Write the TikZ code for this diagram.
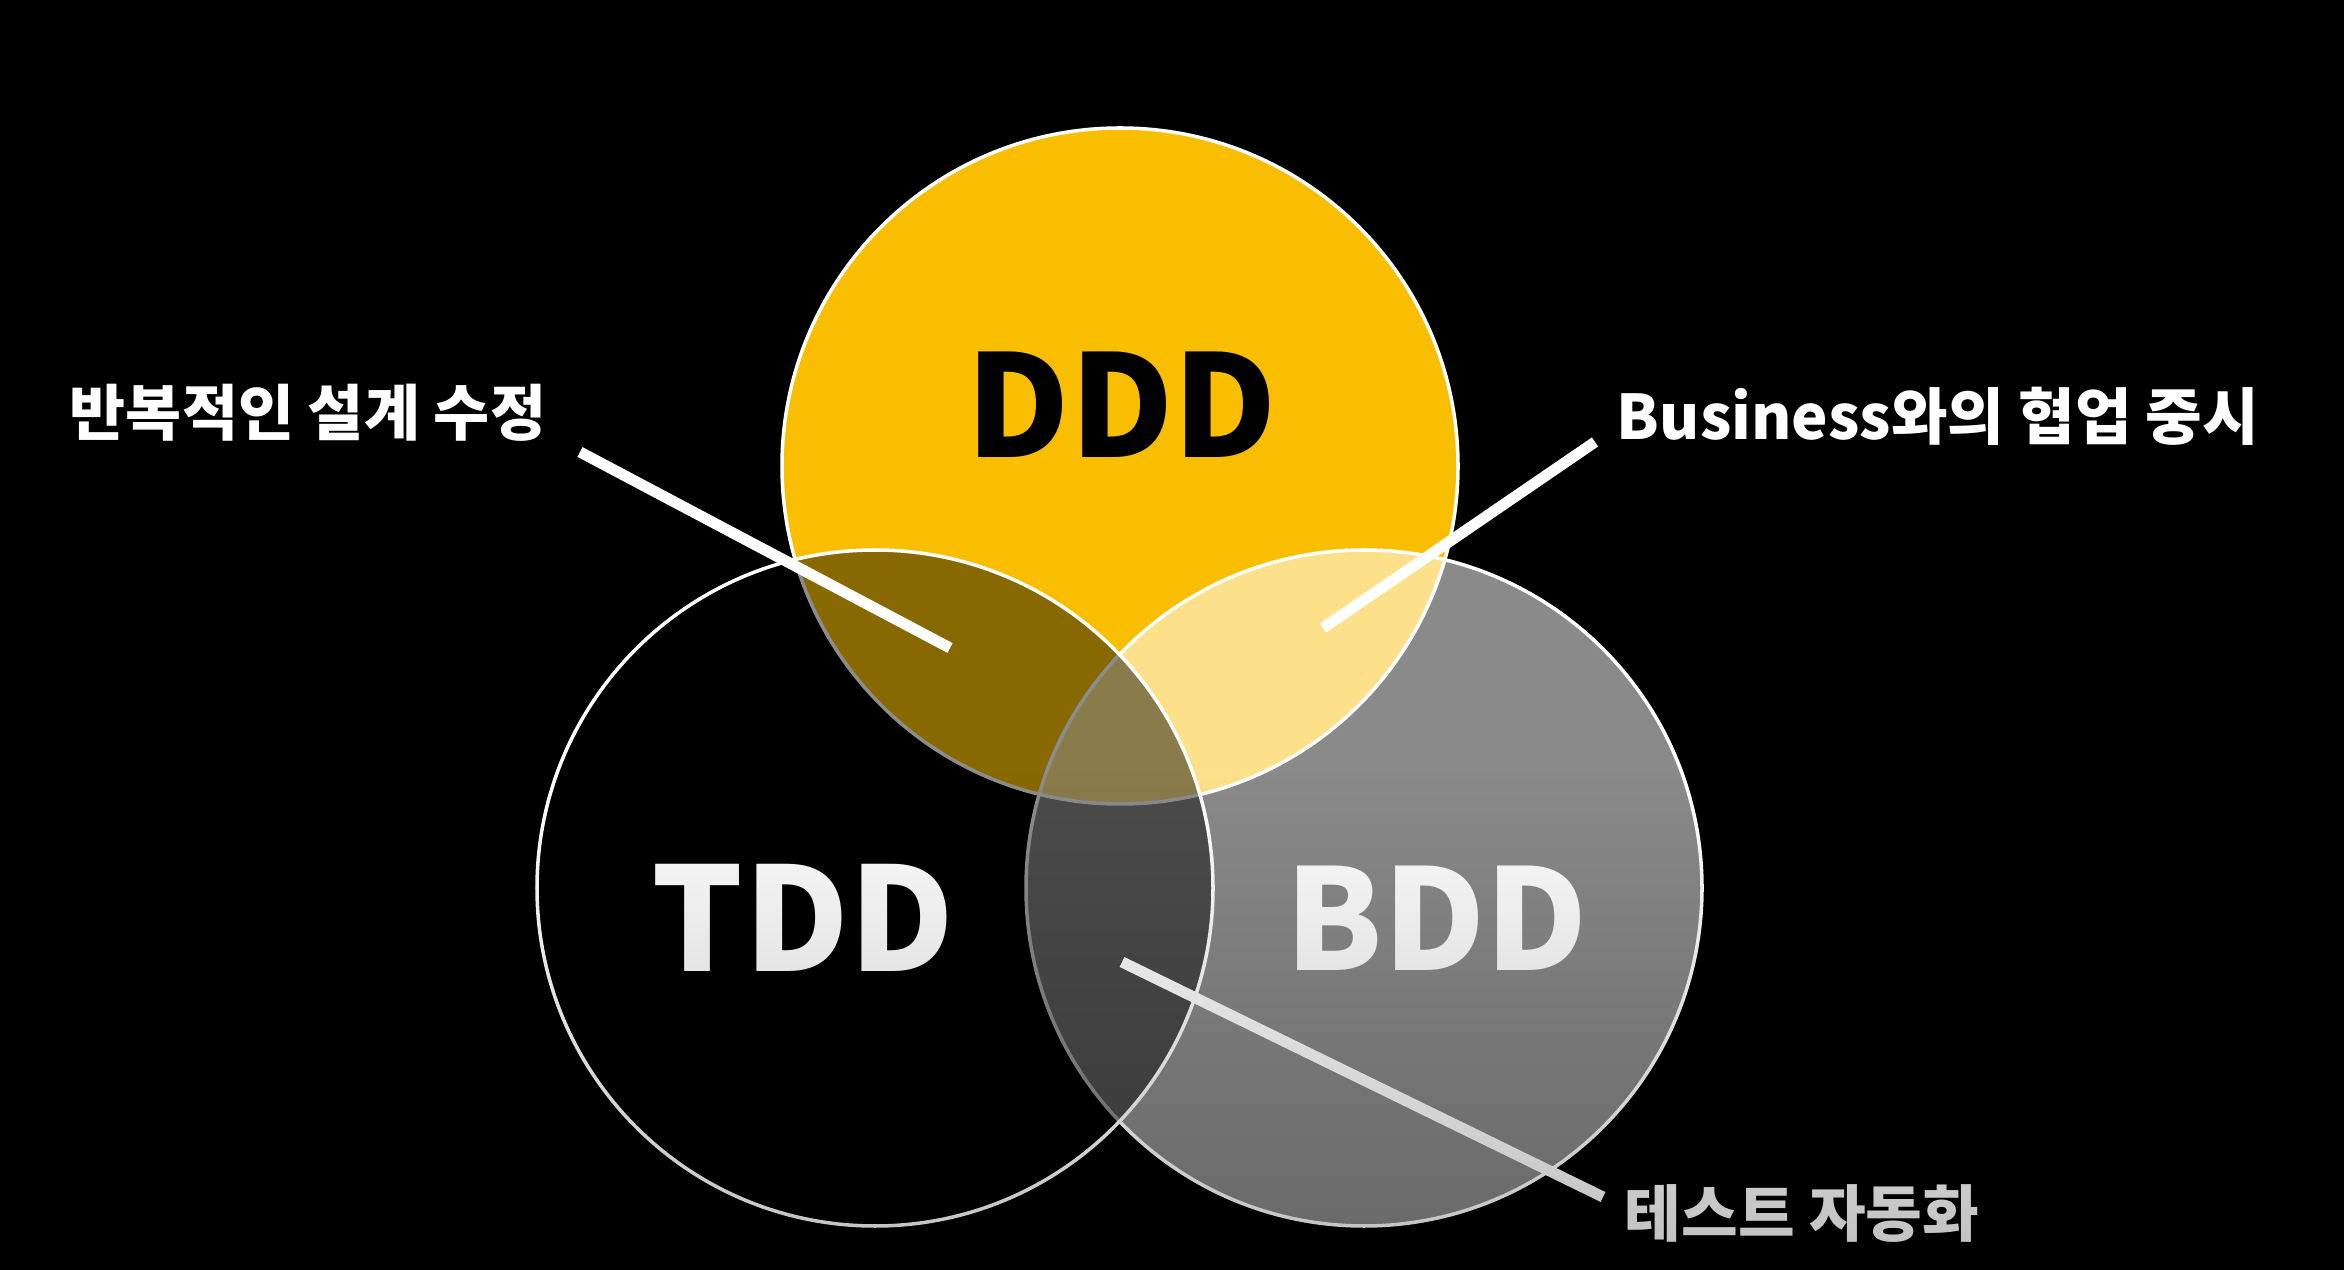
\documentclass[tikz,border=0pt]{standalone}
\usepackage{fontspec}
\usepackage{graphicx}
\usetikzlibrary{fadings}
\newfontfamily\kr{Noto Sans CJK KR}
\newlength\px
\setlength\px{0.1mm}
\definecolor{dddyellow}{RGB}{249,190,0}
\tikzfading[name=lowerdark, top color=transparent!100, bottom color=transparent!75]

\begin{document}
\begin{tikzpicture}[x=1\px, y=-1\px,
  ring/.style={draw=white, line width=1.0pt},
  lead/.style={draw=white, line width=11\px},
  title/.style={inner sep=0pt, font=\kr\bfseries},
  tag/.style={inner sep=0pt, text=white, font=\kr\bfseries}]
  \useasboundingbox (0,0) rectangle (2344,1270);
  \fill[black] (0,0) rectangle (2344,1270);

  % the three sets
  \coordinate (cD) at (1120,466);
  \coordinate (cT) at (875,888);
  \coordinate (cB) at (1364,888);
  \filldraw[ring, fill=dddyellow] (cD) circle[radius=338];
  \filldraw[ring, fill=white, fill opacity=0.54] (cB) circle[radius=338];
  \filldraw[ring, fill=black, fill opacity=0.45] (cT) circle[radius=338];

  % set names
  \node[title, text=black] (ddd) at (1122,405) {\resizebox{310\px}{!}{DDD}};
  \node[title, text=white] (tdd) at (803,918) {\resizebox{302\px}{!}{TDD}};
  \node[title, text=white] (bdd) at (1437,918) {\resizebox{302\px}{!}{BDD}};

  % callouts
  \node[tag] (lrep) at (308,413) {\resizebox{476\px}{!}{반복적인 설계 수정}};
  \node[tag] (lbiz) at (1938,416) {\resizebox{642\px}{!}{Business와의 협업 중시}};
  \node[tag] (lauto) at (1802,1213) {\resizebox{354\px}{!}{테스트 자동화}};

  \coordinate (p1) at (580,452);  \coordinate (q1) at (950,648);
  \coordinate (p2) at (1595,442); \coordinate (q2) at (1323,628);
  \coordinate (p3) at (1603,1197); \coordinate (q3) at (1122,962);
  \draw[lead] (p1) -- (q1);
  \draw[lead] (p2) -- (q2);
  \draw[lead] (p3) -- (q3);

  % darkening towards the bottom edge
  \fill[black, path fading=lowerdark] (0,770) rectangle (2344,1270);
\end{tikzpicture}
\end{document}
